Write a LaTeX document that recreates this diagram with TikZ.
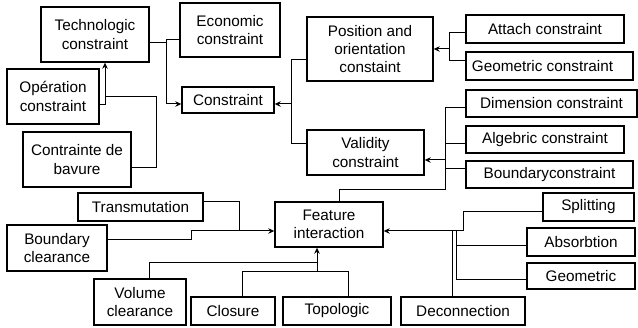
\documentclass[tikz,border=0pt]{standalone}
\usepackage{fontspec}
\setmainfont{Liberation Sans}
\usetikzlibrary{arrows.meta}
\begin{document}
\begin{tikzpicture}[x=1pt,y=-1pt,
  box/.style={draw,line width=1.4pt,inner sep=0pt,align=center,font=\fontsize{15.3}{18.3}\selectfont},
  ln/.style={line width=1pt},
  arr/.style={line width=1pt,-{Stealth[length=6pt,width=5.5pt]}}]
\useasboundingbox (0,0) rectangle (638,328);
\node[box,minimum width=108pt,minimum height=55pt] (tech) at (95,34.5) {Technologic\\constraint};
\node[box,minimum width=100pt,minimum height=54pt] (econ) at (230,30) {Economic\\constraint};
\node[box,minimum width=92pt,minimum height=26pt] (cons) at (228,100) {Constraint};
\node[box,minimum width=92pt,minimum height=55pt] (oper) at (53,96.5) {Opération\\constraint};
\node[box,minimum width=108pt,minimum height=55pt] (bav) at (77,159.5) {Contrainte de\\bavure};
\node[box,minimum width=126pt,minimum height=64pt] (pos) at (370,49) {Position and\\orientation\\constaint};
\node[box,minimum width=158pt,minimum height=28pt] (att) at (545,29) {Attach constraint};
\node[box,minimum width=167pt,minimum height=28pt] (geoc) at (549.5,66) {Geometric constraint\hspace*{14pt}};
\node[box,minimum width=117pt,minimum height=45pt] (val) at (365.5,152.5) {Validity\\constraint};
\node[box,minimum width=171pt,minimum height=27pt] (dim) at (551.5,103.5) {Dimension constraint};
\node[box,minimum width=158pt,minimum height=27pt] (alg) at (545,139.5) {Algebric constraint};
\node[box,minimum width=167pt,minimum height=27pt] (bnd) at (549.5,174.5) {Boundaryconstraint};
\node[box,minimum width=108pt,minimum height=45pt] (feat) at (329,224.5) {Feature\\interaction};
\node[box,minimum width=91pt,minimum height=28pt] (spl) at (588.5,207) {Splitting};
\node[box,minimum width=108pt,minimum height=28pt] (abs) at (581,242) {Absorbtion};
\node[box,minimum width=108pt,minimum height=26pt] (geo) at (581,276) {Geometric};
\node[box,minimum width=124pt,minimum height=28pt] (dec) at (463,311) {Deconnection};
\node[box,minimum width=108pt,minimum height=28pt] (top) at (337,311) {Topologic};
\node[box,minimum width=84pt,minimum height=28pt] (clo) at (233,311) {Closure};
\node[box,minimum width=92pt,minimum height=46pt] (vol) at (140,302) {Volume\\clearance};
\node[box,minimum width=100pt,minimum height=46pt] (bcl) at (57,248) {Boundary\\clearance};
\node[box,minimum width=125pt,minimum height=28pt] (trm) at (140.5,207) {Transmutation};
% constraint group
\draw[ln] (tech.east |- 0,43) -| (166,40) -- (econ.west |- 0,40);
\draw[arr] (166,40) |- (cons.west |- 0,104);
\draw[arr] (oper.east |- 0,105) -| (tech.south -| 105,0);
\draw[ln] (bav.east |- 0,168) -| (156,97) -- (105,97);
\draw[ln] (pos.west |- 0,60) -| (291,144) -- (val.west |- 0,144);
\draw[arr] (291,104) -- (cons.east |- 0,104);
\draw[ln] (att.west |- 0,33) -| (449,61) -- (geoc.west |- 0,61);
\draw[arr] (449,49) -- (pos.east |- 0,49);
\draw[ln] (dim.west |- 0,108) -| (445,190) -| (feat.north -| 339,0);
\draw[ln] (alg.west |- 0,144) -- (445,144);
\draw[ln] (bnd.west |- 0,169) -- (445,169);
\draw[arr] (445,160) -- (val.east |- 0,160);
% feature interaction group
\draw[ln] (trm.east |- 0,202) -| (239,231);
\draw[ln] (bcl.east |- 0,240) -| (191,231);
\draw[arr] (191,231) -- (feat.west |- 0,231);
\draw[ln] (vol.north -| 149,0) |- (317,263);
\draw[ln] (clo.north -| 242,0) |- (317,272);
\draw[ln] (top.north -| 348,0) |- (317,272);
\draw[arr] (317,272) -- (feat.south -| 317,0);
\draw[ln] (spl.west |- 0,212) -| (463,231);
\draw[ln] (abs.west |- 0,246) -| (456,231);
\draw[ln] (geo.west |- 0,280) -| (456,246);
\draw[ln] (dec.north -| 452,0) -- (452,231);
\draw[arr] (463,231) -- (feat.east |- 0,231);
\end{tikzpicture}
\end{document}
